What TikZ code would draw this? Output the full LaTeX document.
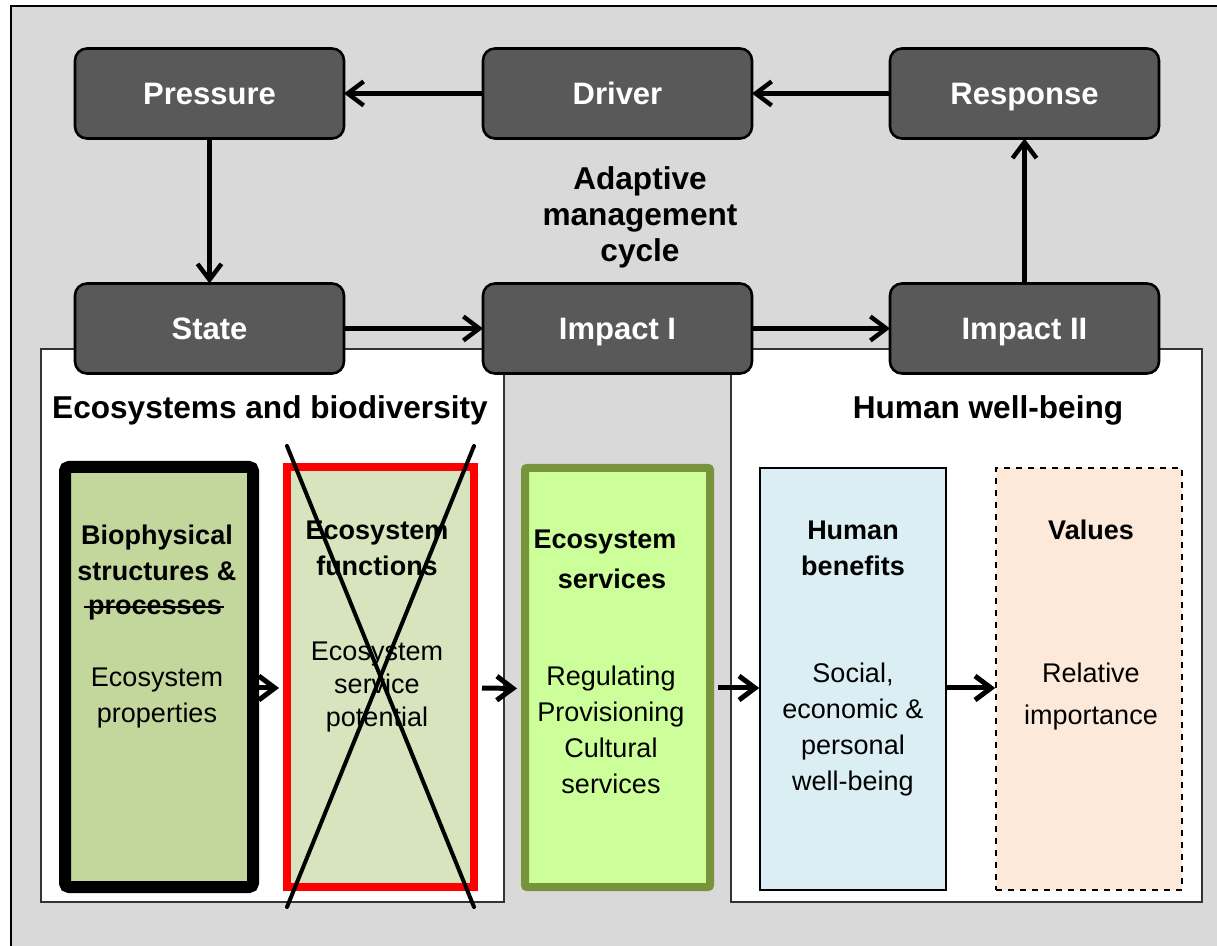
\documentclass[tikz,border=0pt]{standalone}
\usepackage{fontspec}
\setmainfont{Liberation Sans}
\usetikzlibrary{positioning}
\usetikzlibrary{arrows.meta}
\definecolor{bggrey}{HTML}{D9D9D9}
\definecolor{boxgrey}{HTML}{595959}
\definecolor{biogreen}{HTML}{C3D69B}
\definecolor{funcgreen}{HTML}{D7E4BD}
\definecolor{servlime}{HTML}{CCFF99}
\definecolor{servolive}{HTML}{77933C}
\definecolor{hbblue}{HTML}{DBEEF4}
\definecolor{valpeach}{HTML}{FDE9D9}
\tikzset{
        % DPSIR boxes of the cycle
        dpsir/.style={rectangle, rounded corners=6pt, draw=black, line width=1.3pt, fill=boxgrey, text=white,
                font=\bfseries\fontsize{15.5}{18}\selectfont, minimum width=134.5pt, minimum height=45pt,
                inner sep=0pt, outer sep=0pt, text height=11.1pt, text depth=0pt},
        % Arrows
        flow/.style={-{Straight Barb[length=8pt,width=12pt]}, line width=2.2pt},
        flow_inner/.style={flow, line width=2.5pt},
        % Headings
        head/.style={font=\bfseries\fontsize{15.8}{18}\selectfont, align=center, inner sep=0pt},
        % Columns
        column/.style={rectangle, inner sep=0pt},
        col_title/.style={font=\bfseries\fontsize{13.5}{18}\selectfont, align=center, inner sep=0pt},
        col_body/.style={font=\fontsize{13.5}{18}\selectfont, align=center, inner sep=0pt},
        panel/.style={draw=black!80, line width=0.8pt, fill=white},
        cross/.style={line width=2pt, line cap=round}
}
\begin{document}
\begin{tikzpicture}[x=0.5pt, y=-0.5pt]
\useasboundingbox (0,0) rectangle (1217,946);
\draw[fill=bggrey, line width=0.8pt] (11,6) rectangle (1240,980);

% white panels
\draw[panel] (41,349) rectangle (504,902);
\draw[panel] (731,349) rectangle (1202,902);
\node[head] (ecohead) at (270,410) {Ecosystems and biodiversity};
\node[head] (hwbhead) at (988,410) {Human well-being};
\node[head] (amc) at (640,217) {Adaptive\\management\\cycle};

% cycle
\node[dpsir] (pressure) at (209.5,93.5) {Pressure};
\node[dpsir, right=69.5pt of pressure] (driver) {Driver};
\node[dpsir, right=69pt of driver] (response) {Response};
\node[dpsir, below=72.5pt of pressure] (state) {State};
\node[dpsir, right=69.5pt of state] (impI) {Impact I};
\node[dpsir, right=69pt of impI] (impII) {Impact II};

\draw[flow] (driver) -- (pressure);
\draw[flow] (response) -- (driver);
\draw[flow] (pressure) -- (state);
\draw[flow] (state) -- (impI);
\draw[flow] (impI) -- (impII);
\draw[flow] (impII) -- (response);

% columns
\node[column, draw=black, line width=6pt, rounded corners=2pt, fill=biogreen,
        minimum width=94pt, minimum height=210pt] (bio) at (159,677) {};
\node[column, draw=red, line width=4pt, fill=funcgreen,
        minimum width=93.5pt, minimum height=210pt] (func) at (380.5,677) {};
\node[column, draw=servolive, line width=4pt, rounded corners=1pt, fill=servlime,
        minimum width=92.5pt, minimum height=209.5pt] (serv) at (617.5,677.5) {};
\node[column, draw=black, line width=0.8pt, fill=hbblue,
        minimum width=93pt, minimum height=211pt] (human) at (853,679) {};
\node[column, draw=black, line width=0.8pt, dashed, fill=valpeach,
        minimum width=93pt, minimum height=211pt] (values) at (1089,679) {};

\node[col_title] (biot) at (157,553) {Biophysical\\structures \&};
\node[col_title] (biop) at (155,610) {processes};
\draw[line width=1.2pt] ([xshift=-2pt, yshift=1.5pt]biop.west) -- ([xshift=1pt, yshift=1.5pt]biop.east);
\node[col_body] (biob) at (157,698) {Ecosystem\\properties};
\node[col_title] (funct) at (377,548) {Ecosystem\\functions};
\node[col_body, font=\fontsize{13.5}{16.5}\selectfont] (funcb) at (377,687) {Ecosystem\\service\\potential};
\node[col_title, font=\bfseries\fontsize{13.5}{20}\selectfont] (servt) at (605,559) {Ecosystem\\\hspace*{7pt}services};
\node[col_body] (servb) at (611,730) {Regulating\\Provisioning\\Cultural\\services};
\node[col_title] (humant) at (853,548) {Human\\benefits};
\node[col_body] (humanb) at (853,730) {Social,\\economic \&\\personal\\well-being};
\node[col_title] (valuest) at (1091,530) {Values};
\node[col_body, font=\fontsize{13.5}{21}\selectfont] (valuesb) at (1091,697) {Relative\\importance};

\draw[flow_inner, shorten >=2pt] ([yshift=-5.5pt]bio.east) -- ([yshift=-5.5pt]func.west);
\draw[flow_inner, shorten <=2pt, shorten >=2pt] ([yshift=-5.5pt]func.east) -- ([yshift=-5.5pt]serv.west);
\draw[flow_inner, shorten <=2pt] ([yshift=-5.25pt]serv.east) -- ([yshift=-4.5pt]human.west);
\draw[flow_inner] ([yshift=-4.5pt]human.east) -- ([yshift=-4.5pt]values.west);

% crossed out
\draw[cross] (287,446) -- (474,907);
\draw[cross] (474,446) -- (287,907);
\end{tikzpicture}
\end{document}
